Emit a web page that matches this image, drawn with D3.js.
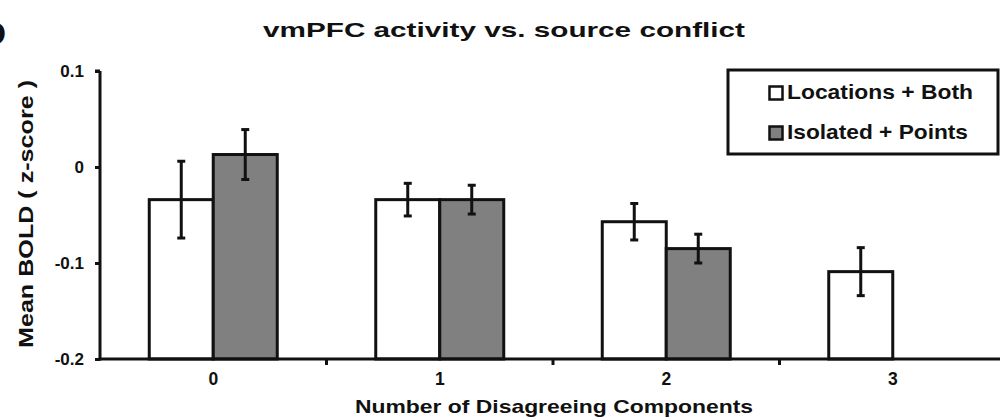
<!DOCTYPE html>
<html>
<head>
<meta charset="utf-8">
<script src="https://cdn.jsdelivr.net/npm/d3@7"></script>
<style>
  html, body { margin: 0; padding: 0; background: #fff; }
  svg { display: block; font-family: "Liberation Sans", Arial, sans-serif; font-weight: bold; }
</style>
</head>
<body>
<svg id="chart" width="1000" height="420"></svg>
<script>
// Number of disagreeing components
const categories = ["0", "1", "2", "3"];
const seriesNames = ["Locations + Both", "Isolated + Points"];
const seriesColors = ["#ffffff", "#808080"];
// Mean BOLD (z-score) and standard error per category
const locationsBoth = [-0.034, -0.034, -0.057, -0.109];
const locationsBothErr = [0.040, 0.017, 0.019, 0.025];
const isolatedPoints = [0.013, -0.034, -0.085, null];
const isolatedPointsErr = [0.026, 0.015, 0.015, null];
const yTicks = [-0.2, -0.1, 0, 0.1];
const yTickLabels = ["-0.2", "-0.1", "0", "0.1"];

const svg = d3.select("#chart");
const ink = "#111";

const y = d3.scaleLinear().domain([-0.2, 0.1]).range([359, 71]);
const x = d3.scaleBand().domain(categories).range([100, 1006]).padding(0);
const xs = d3.scaleBand().domain(seriesNames)
  .range([x.bandwidth() / 2 - 64, x.bandwidth() / 2 + 64]).padding(0);

const rows = [];
categories.forEach((c, i) => {
  [[locationsBoth, locationsBothErr], [isolatedPoints, isolatedPointsErr]].forEach(([vals, errs], s) => {
    if (vals[i] !== null) rows.push({ cat: c, s, v: vals[i], e: errs[i] });
  });
});

// bars (rise from the -0.2 floor)
svg.append("g").selectAll("rect").data(rows).join("rect")
  .attr("x", d => x(d.cat) + xs(seriesNames[d.s]))
  .attr("width", xs.bandwidth())
  .attr("y", d => y(d.v))
  .attr("height", d => y(-0.2) - y(d.v))
  .attr("fill", d => seriesColors[d.s])
  .attr("stroke", ink)
  .attr("stroke-width", 3);

// error bars
const eb = svg.append("g").attr("stroke", ink).attr("stroke-width", 3);
rows.forEach(d => {
  const cx = x(d.cat) + xs(seriesNames[d.s]) + xs.bandwidth() / 2;
  eb.append("line").attr("x1", cx).attr("x2", cx).attr("y1", y(d.v + d.e)).attr("y2", y(d.v - d.e));
  [d.v + d.e, d.v - d.e].forEach(t => {
    eb.append("line").attr("x1", cx - 4).attr("x2", cx + 4).attr("y1", y(t)).attr("y2", y(t));
  });
});

// y axis
const yAxis = svg.append("g").attr("transform", "translate(100,0)")
  .call(d3.axisLeft(y).tickValues(yTicks).tickFormat((d, i) => yTickLabels[i]).tickSize(5).tickPadding(11));
yAxis.select(".domain").attr("d", `M0,${y(0.1)}H-5M0,${y(0.1)}V${y(-0.2) + 1.5}`);
yAxis.selectAll("line, path").attr("stroke", ink).attr("stroke-width", 3);
yAxis.selectAll("text").attr("font-size", 17).attr("font-weight", "bold").attr("fill", ink)
  .attr("font-family", "Liberation Sans, Arial, sans-serif");

// x axis with ticks at category boundaries
const xAxisG = svg.append("g");
xAxisG.append("line").attr("x1", 98.5).attr("x2", 1000).attr("y1", y(-0.2)).attr("y2", y(-0.2))
  .attr("stroke", ink).attr("stroke-width", 3);
xAxisG.selectAll("line.tk").data(categories.slice(1)).join("line").attr("class", "tk")
  .attr("x1", d => x(d)).attr("x2", d => x(d))
  .attr("y1", y(-0.2)).attr("y2", y(-0.2) + 6)
  .attr("stroke", ink).attr("stroke-width", 3);
xAxisG.selectAll("text").data(categories).join("text")
  .attr("x", d => x(d) + x.bandwidth() / 2).attr("y", 385)
  .attr("text-anchor", "middle").attr("font-size", 17.5).attr("fill", ink)
  .text(d => d);

// titles (wide, bold lettering)
svg.append("text").attr("x", 504).attr("y", 37).attr("text-anchor", "middle")
  .attr("font-size", 21).attr("fill", ink)
  .attr("textLength", 482).attr("lengthAdjust", "spacingAndGlyphs")
  .text("vmPFC activity vs. source conflict");
svg.append("text").attr("x", 554).attr("y", 413).attr("text-anchor", "middle")
  .attr("font-size", 18.5).attr("fill", ink)
  .attr("textLength", 398).attr("lengthAdjust", "spacingAndGlyphs")
  .text("Number of Disagreeing Components");
svg.append("text").attr("transform", "translate(33,214) rotate(-90)").attr("text-anchor", "middle")
  .attr("font-size", 21).attr("fill", ink)
  .attr("textLength", 268).attr("lengthAdjust", "spacingAndGlyphs")
  .text("Mean BOLD ( z-score )");
// panel letter
svg.append("text").attr("x", 6).attr("y", 45).attr("text-anchor", "end")
  .attr("font-size", 34).attr("fill", ink).text("D");

// legend
const legendWidths = [186, 181];
const lg = svg.append("g");
lg.append("rect").attr("x", 728).attr("y", 70).attr("width", 270).attr("height", 84)
  .attr("fill", "#fff").attr("stroke", ink).attr("stroke-width", 3);
seriesNames.forEach((n, i) => {
  const cy = 93 + i * 40;
  lg.append("rect").attr("x", 769.5).attr("y", cy - 6.5).attr("width", 13).attr("height", 13)
    .attr("fill", seriesColors[i]).attr("stroke", ink).attr("stroke-width", 2.5);
  lg.append("text").attr("x", 787).attr("y", cy + 6).attr("font-size", 21).attr("fill", ink)
    .attr("textLength", legendWidths[i]).attr("lengthAdjust", "spacingAndGlyphs").text(n);
});
</script>
</body>
</html>
